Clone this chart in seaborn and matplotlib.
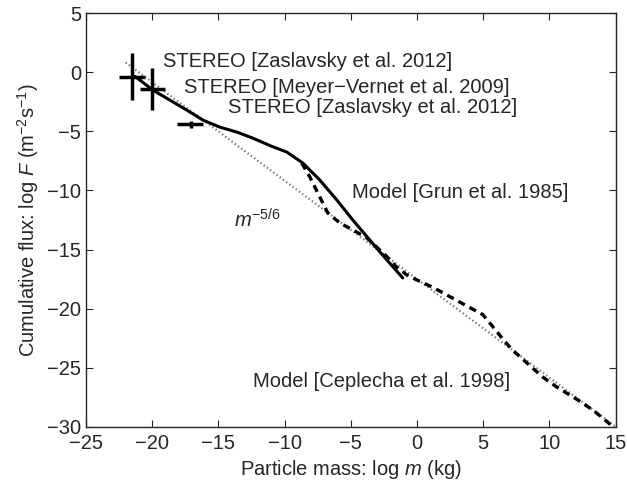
import numpy as np
import pandas as pd
import seaborn as sns
import matplotlib
matplotlib.use("Agg")
import matplotlib.pyplot as plt

# STEREO measurements (centre, half-widths)
stereo_x = [-21.5, -20.0, -17.1]
stereo_y = [-0.4, -1.45, -4.38]
stereo_xerr = [[1.0, 0.9, 1.0], [0.95, 0.95, 0.95]]
stereo_yerr = [[1.95, 1.75, 0.3], [2.0, 1.8, 0.3]]

# Grun et al. 1985 model (solid)
grun_x = [-21.3, -20.92, -19.94, -18.66, -17.38, -16.17, -14.89, -13.6, -12.4,
          -11.0, -9.83, -8.62, -7.34, -6.06, -4.85, -3.57, -2.28, -1.08]
grun_y = [-0.35, -0.66, -1.51, -2.35, -3.2, -4.04, -4.64, -5.06, -5.57,
          -6.25, -6.75, -7.68, -9.12, -10.8, -12.5, -14.19, -15.88, -17.4]

# Ceplecha et al. 1998 model (dashed)
cep_x = [-8.7, -8.09, -7.34, -6.74, -5.83, -4.85, -3.8, -3.04, -2.28, -1.53,
         -0.77, -0.02, 1.2, 2.5, 3.8, 4.96, 5.7, 6.5, 7.2, 8.3, 9.5, 10.5,
         12.1, 13.3, 14.8]
cep_y = [-7.68, -8.86, -10.55, -11.9, -12.75, -13.34, -14.0, -14.8, -15.6, -16.5,
         -17.15, -17.57, -18.2, -19.0, -19.8, -20.5, -21.5, -22.6, -23.5, -24.6,
         -25.8, -26.6, -27.7, -28.6, -30.0]

# m^-5/6 reference line (dotted)
ref_x = [-22.0, 15.0]
ref_y = [0.83, -30.0]

sns.set_style("ticks")
plt.rcParams['font.family'] = ['Liberation Sans', 'DejaVu Sans']
plt.rcParams['mathtext.fontset'] = 'custom'
plt.rcParams['mathtext.rm'] = 'Liberation Sans'
plt.rcParams['mathtext.it'] = 'Liberation Sans:italic'
plt.rcParams['axes.unicode_minus'] = True

fig = plt.figure(figsize=(6.27, 4.9), dpi=100)
ax = fig.add_axes([0.137, 0.129, 0.845, 0.844])

sns.lineplot(x=ref_x, y=ref_y, ax=ax, color="0.45", linestyle=(0, (0.6, 1.2)),
             linewidth=1.6)
sns.lineplot(x=cep_x, y=cep_y, ax=ax, color="black", linestyle=(0, (2.2, 1.6)),
             linewidth=2.4, sort=False)
sns.lineplot(x=grun_x, y=grun_y, ax=ax, color="black", linewidth=2.2, sort=False)
ax.errorbar(stereo_x, stereo_y, xerr=stereo_xerr, yerr=stereo_yerr, fmt="none",
            ecolor="black", elinewidth=2.5, capsize=0)

fs = 14.5
ax.text(-19.2, 0.94, "STEREO [Zaslavsky et al. 2012]", fontsize=fs, va="center")
ax.text(-17.6, -1.25, "STEREO [Meyer\u2212Vernet et al. 2009]", fontsize=fs, va="center")
ax.text(-14.3, -2.95, "STEREO [Zaslavsky et al. 2012]", fontsize=fs, va="center")
ax.text(-4.9, -10.2, "Model [Grun et al. 1985]", fontsize=fs, va="center")
ax.text(-13.8, -12.5, r"$m^{-5/6}$", fontsize=fs, va="center")
ax.text(-12.4, -26.2, "Model [Ceplecha et al. 1998]", fontsize=fs, va="center")

ax.set_xlim(-25, 15)
ax.set_ylim(-30, 5)
ax.set_xticks(np.arange(-25, 16, 5))
ax.set_yticks(np.arange(-30, 6, 5))
ax.tick_params(direction="in", top=True, right=True, labelsize=fs, length=5,
               width=0.8)
ax.tick_params(axis="x", pad=5)
for s in ax.spines.values():
    s.set_linewidth(1.0)
ax.set_xlabel(r"Particle mass: log $m$ (kg)", fontsize=fs)
ax.set_ylabel(r"Cumulative flux: log $F$ (m$^{-2}$s$^{-1}$)", fontsize=fs)

fig.savefig("out.png", dpi=100)
